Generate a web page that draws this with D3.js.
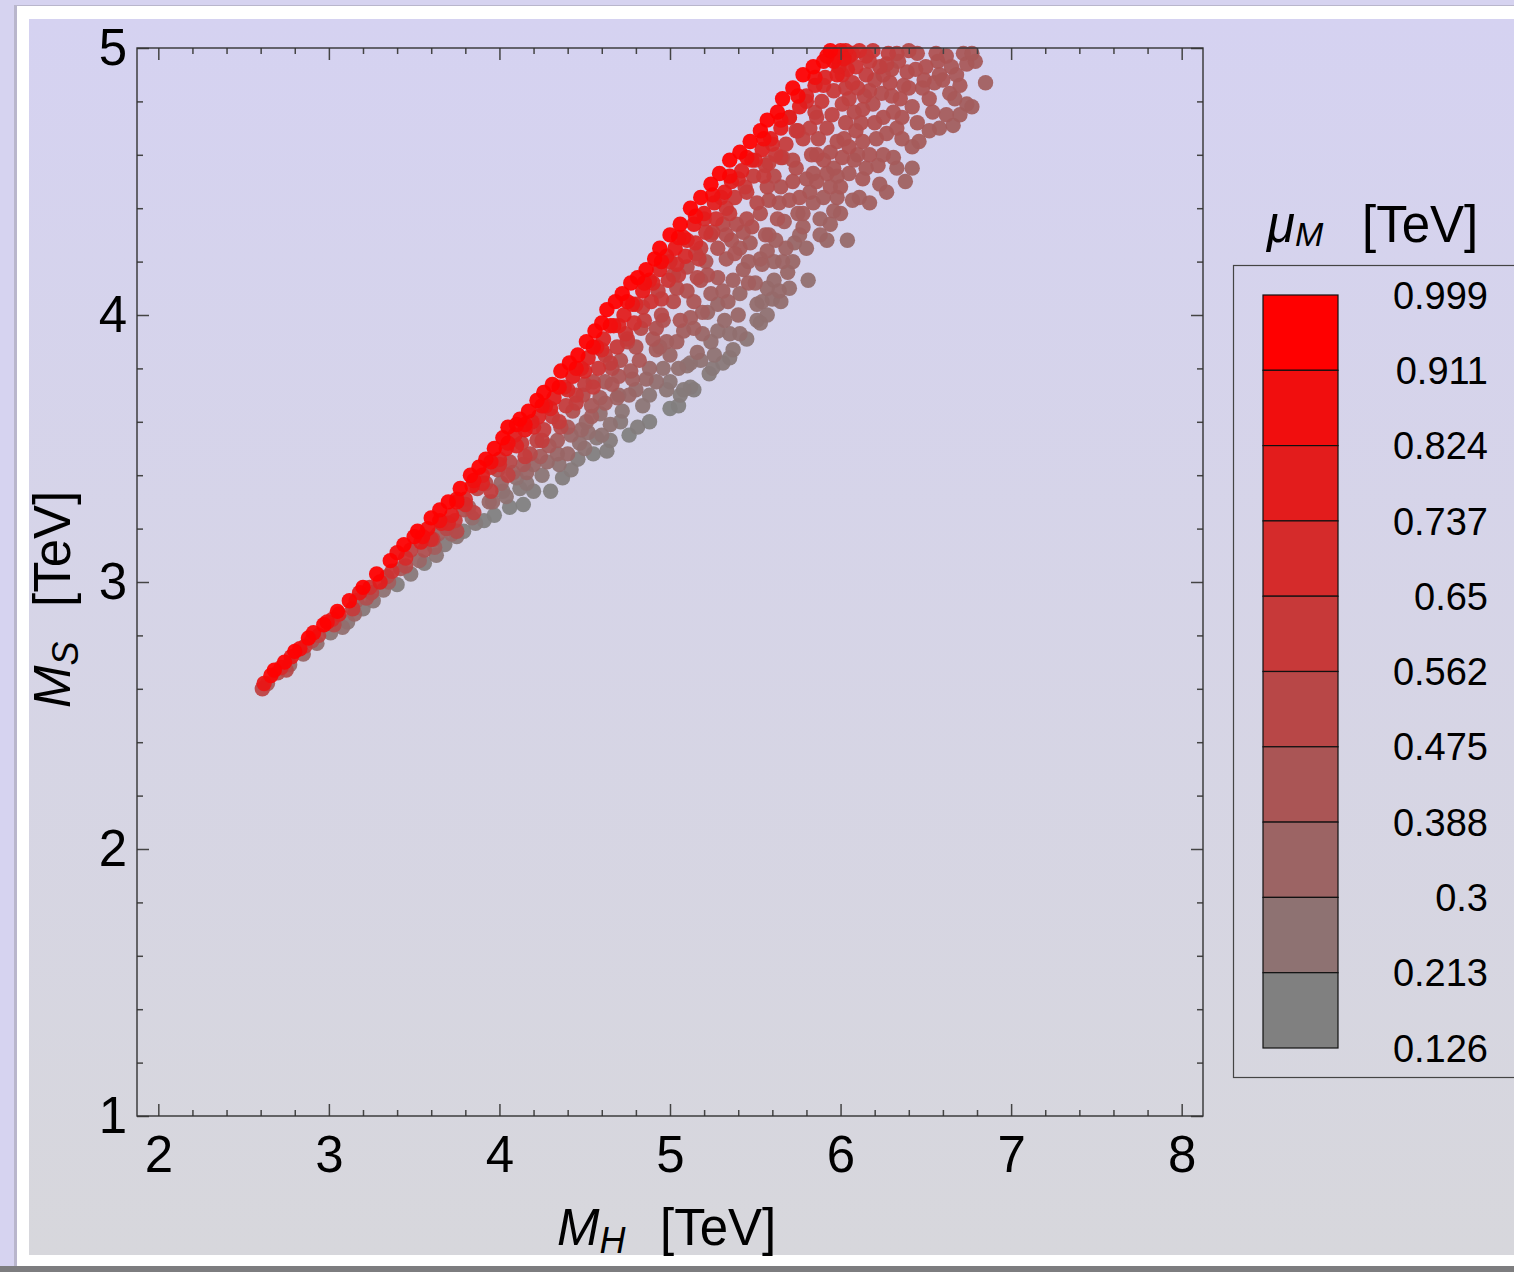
<!DOCTYPE html>
<html>
<head>
<meta charset="utf-8">
<script src="https://cdn.jsdelivr.net/npm/d3@7"></script>
<style>
  body { margin:0; background:#d6d3f0; }
  text { font-family:"Liberation Sans", Arial, Helvetica, sans-serif; fill:#000; }
</style>
</head>
<body>
<svg id="chart" width="1514" height="1272"></svg>
<script>
// tick labels
var xTicks = [2,3,4,5,6,7,8];
var yTicks = [1,2,3,4,5];
var legendLabels = ["0.999","0.911","0.824","0.737","0.65","0.562","0.475","0.388","0.3","0.213","0.126"];

// scan points : [M_H, M_S, mu_M]  (TeV)
var tipPoints = [
  [2.61,2.60,0.55],[2.62,2.62,0.85],[2.64,2.62,0.4],[2.66,2.65,0.95],[2.68,2.67,0.99],[2.70,2.66,0.45],
  [2.72,2.68,0.7],[2.74,2.70,0.97],[2.75,2.67,0.5],[2.77,2.69,0.3],[2.78,2.72,0.8],[2.80,2.74,0.99],
  [2.83,2.75,0.9],[2.85,2.73,0.3],[2.86,2.76,0.6],[2.88,2.79,1.0],[2.90,2.78,0.45],[2.91,2.81,0.95],
  [2.93,2.77,0.25],[2.94,2.80,0.55],[2.97,2.84,0.99],[2.99,2.85,0.9],[3.01,2.81,0.2],[3.02,2.86,0.7],
  [3.03,2.84,0.5],[3.05,2.89,1.0],[3.06,2.88,0.75],[3.08,2.83,0.25],[3.11,2.85,0.2],[3.12,2.93,0.98],
  [3.14,2.90,0.6],[3.15,2.88,0.3],[3.16,2.93,0.35],[3.18,2.96,0.85],[3.20,2.90,0.18],[3.20,2.98,1.0],
  [3.22,2.94,0.45],[3.24,2.98,0.65],[3.25,2.96,0.5],[3.26,2.93,0.2],[3.28,3.03,1.0],[3.30,3.00,0.8],
  [3.32,2.97,0.22],[3.34,3.02,0.5],[3.35,3.00,0.35],[3.36,3.08,0.99],[3.37,3.04,0.65],[3.40,2.99,0.15],
  [3.40,3.11,0.92],[3.42,3.05,0.4],[3.44,3.14,1.0],[3.45,3.09,0.7],[3.45,3.06,0.5],[3.48,3.03,0.18],
  [3.48,3.12,0.55],[3.50,3.17,0.97]
];
var lowBandPoints = [
  [3.52,3.19,1.0],[3.53,3.08,0.3],[3.54,3.15,0.8],[3.56,3.07,0.15],[3.56,3.12,0.45],[3.58,3.20,0.9],
  [3.60,3.24,1.0],[3.61,3.16,0.55],[3.62,3.13,0.35],[3.63,3.10,0.2],[3.64,3.18,0.35],[3.65,3.27,0.99],
  [3.66,3.22,0.75],[3.68,3.14,0.17],[3.69,3.20,0.5],[3.70,3.30,1.0],[3.72,3.25,0.8],[3.72,3.18,0.3],
  [3.74,3.23,0.6],[3.75,3.31,0.9],[3.75,3.17,0.2],[3.77,3.35,1.0],[3.79,3.19,0.15],[3.79,3.27,0.45],
  [3.80,3.31,0.7],[3.82,3.28,0.35],[3.83,3.40,0.99],[3.84,3.36,0.85],[3.84,3.24,0.25],[3.86,3.22,0.16],
  [3.87,3.35,0.55],[3.88,3.43,1.0],[3.90,3.40,0.8],[3.91,3.23,0.14],[3.92,3.37,0.45],[3.92,3.46,0.98],
  [3.94,3.30,0.3],[3.95,3.43,0.7],[3.96,3.30,0.28],[3.97,3.25,0.13],[3.97,3.50,1.0],[3.99,3.42,0.48],
  [4.00,3.46,0.75],[4.01,3.37,0.3],[4.02,3.54,1.0],[4.02,3.34,0.2],[4.04,3.50,0.85],[4.04,3.32,0.22],
  [4.05,3.58,0.99],[4.06,3.45,0.5],[4.06,3.28,0.13],[4.08,3.41,0.35],[4.09,3.55,0.8],[4.10,3.39,0.22],
  [4.10,3.59,0.97],
  [4.12,3.61,1.0],[4.12,3.35,0.17],[4.13,3.52,0.6],[4.14,3.44,0.4],[4.14,3.29,0.13],[4.15,3.57,0.85],
  [4.16,3.37,0.2],[4.16,3.41,0.3],[4.17,3.64,0.99],[4.18,3.48,0.5],[4.19,3.60,0.8],[4.20,3.34,0.15],
  [4.20,3.44,0.3],[4.22,3.68,1.0],[4.22,3.53,0.55],[4.23,3.62,0.75],[4.24,3.47,0.38],[4.25,3.40,0.2],
  [4.26,3.57,0.6],[4.26,3.71,0.99],[4.27,3.66,0.85],[4.28,3.45,0.28],[4.29,3.51,0.4],[4.30,3.34,0.14],
  [4.31,3.74,1.0],[4.31,3.62,0.62],[4.32,3.69,0.8],[4.34,3.53,0.38],[4.34,3.48,0.3],[4.35,3.44,0.22],
  [4.36,3.79,0.99],[4.36,3.58,0.5],[4.37,3.39,0.15],[4.38,3.73,0.78],[4.39,3.66,0.6],[4.40,3.48,0.3],
  [4.40,3.58,0.4],[4.41,3.82,1.0],[4.42,3.42,0.17],[4.42,3.55,0.3],[4.43,3.64,0.45],[4.43,3.77,0.82],
  [4.45,3.70,0.62],[4.46,3.85,1.0],[4.46,3.46,0.16],[4.47,3.52,0.25],[4.48,3.80,0.8],[4.48,3.57,0.3],
  [4.49,3.70,0.5],[4.50,3.74,0.58],[4.50,3.50,0.22],[4.51,3.90,0.99],[4.51,3.60,0.3],[4.52,3.84,0.78],
  [4.52,3.56,0.25],[4.54,3.66,0.4],[4.54,3.62,0.35],[4.55,3.75,0.5],[4.55,3.48,0.14],[4.56,3.94,1.0],
  [4.57,3.54,0.18],[4.57,3.88,0.82],[4.58,3.80,0.65],[4.59,3.63,0.25],[4.59,3.69,0.38],[4.60,3.97,0.99],
  [4.60,3.55,0.22]
];
var midBandPoints = [
  [4.61,3.91,0.75],[4.62,3.85,0.6],[4.62,3.67,0.35],[4.62,3.75,0.4],[4.63,3.49,0.15],[4.63,4.02,1.0],
  [4.65,3.53,0.16],[4.65,3.59,0.22],[4.66,3.74,0.42],[4.66,3.80,0.5],[4.67,3.96,0.85],[4.68,4.05,0.99],
  [4.69,3.69,0.33],[4.69,3.88,0.62],[4.70,3.77,0.42],[4.70,3.70,0.3],[4.71,3.60,0.18],[4.71,3.83,0.45],
  [4.72,4.08,1.0],[4.72,3.64,0.2],[4.73,4.00,0.8],[4.74,3.93,0.65],[4.75,3.90,0.55],[4.76,3.55,0.13],
  [4.76,3.70,0.3],[4.77,4.12,0.99],[4.77,3.79,0.4],[4.78,4.04,0.82],[4.78,3.76,0.35],[4.79,3.97,0.68],
  [4.80,3.88,0.45],[4.80,3.72,0.28],[4.81,3.58,0.15],[4.81,4.14,1.0],[4.82,3.83,0.42],[4.83,3.95,0.5],
  [4.84,4.03,0.62],[4.84,4.09,0.85],[4.84,3.66,0.2],[4.86,4.17,0.99],[4.86,3.76,0.3],[4.88,3.60,0.14],
  [4.88,3.70,0.2],[4.88,3.80,0.3],[4.88,4.13,0.8],[4.89,4.05,0.66],[4.90,3.91,0.42],[4.91,4.21,1.0],
  [4.92,3.87,0.38],[4.92,3.95,0.45],[4.92,3.75,0.25],[4.93,4.09,0.58],[4.94,4.25,0.99],[4.94,3.88,0.35],
  [4.94,4.17,0.78],[4.95,4.00,0.5],[4.96,3.98,0.45],[4.96,3.80,0.25],[4.98,3.90,0.35],[4.98,3.72,0.2],
  [4.98,4.22,0.83],[4.99,4.13,0.65],[5.00,4.30,1.0],[5.00,3.65,0.13],[5.00,3.75,0.2],[5.00,3.85,0.3],
  [5.02,4.05,0.5],[5.02,4.15,0.55],[5.03,4.25,0.85],[5.04,4.19,0.7],[5.04,3.90,0.35],[5.04,4.10,0.5],
  [5.05,3.66,0.14],[5.05,3.80,0.25],[5.06,3.70,0.16],[5.06,4.34,1.0],[5.06,3.98,0.42],[5.08,3.94,0.36],
  [5.08,3.72,0.17],[5.08,4.29,0.88],[5.09,4.22,0.72],[5.10,4.09,0.45],[5.10,3.81,0.22],[5.10,4.18,0.5],
  [5.12,4.40,1.0],[5.12,3.82,0.22],[5.12,3.99,0.38],[5.12,3.73,0.16],[5.14,3.72,0.15],[5.14,3.95,0.35],
  [5.14,4.05,0.42],[5.14,4.34,0.85],[5.15,4.27,0.7],[5.16,4.14,0.5],[5.16,3.86,0.28],[5.17,4.21,0.58],
  [5.18,4.44,0.99],[5.18,4.13,0.45],[5.18,4.25,0.55],[5.18,3.83,0.22],[5.19,4.01,0.35],[5.19,3.93,0.3],
  [5.20,4.38,0.82],[5.21,4.20,0.42],[5.21,4.31,0.65],[5.22,4.01,0.3],[5.22,4.15,0.45],[5.23,3.78,0.17],
  [5.24,4.49,1.0],[5.24,4.08,0.36],[5.24,4.30,0.55],[5.24,3.90,0.25],[5.25,3.80,0.18],[5.26,4.42,0.8],
  [5.26,3.85,0.22],[5.27,4.36,0.68],[5.28,4.14,0.4],[5.28,4.25,0.45],[5.28,4.04,0.3],[5.28,3.94,0.25],
  [5.29,4.53,0.99],[5.31,4.09,0.35],[5.31,4.34,0.5],[5.31,3.82,0.18],[5.32,4.46,0.82],[5.32,3.98,0.28],
  [5.33,4.40,0.65],[5.33,4.30,0.48],[5.33,4.21,0.4],[5.34,4.05,0.33],[5.35,4.58,1.0],[5.35,3.84,0.18],
  [5.35,3.93,0.24],[5.36,4.50,0.8],[5.36,4.28,0.42],[5.37,4.13,0.35],[5.37,3.87,0.2],[5.38,4.44,0.62],
  [5.38,4.23,0.42],[5.39,4.34,0.48],[5.40,4.00,0.3],[5.41,4.61,0.99],[5.41,4.25,0.4],[5.41,4.08,0.3],
  [5.41,3.93,0.24],[5.42,4.54,0.78],[5.43,4.17,0.36],[5.43,4.31,0.42],[5.44,4.48,0.62],[5.45,4.36,0.48],
  [5.45,3.91,0.2],[5.46,4.12,0.35],[5.46,4.20,0.36],[5.47,4.65,1.0],[5.47,4.27,0.38],[5.48,4.58,0.8],
  [5.48,4.33,0.45],[5.49,4.52,0.6],[5.50,4.12,0.33],[5.51,4.42,0.5],[5.51,4.04,0.26],[5.51,3.98,0.22],
  [5.53,4.69,0.99],[5.53,4.21,0.35],[5.53,3.97,0.22],[5.53,4.38,0.45],[5.54,4.62,0.78],[5.54,4.19,0.33],
  [5.54,4.05,0.26],[5.56,4.56,0.6],[5.56,4.30,0.4]
];
var highBandPoints = [
  [5.57,4.73,1.0],[5.57,4.48,0.5],[5.57,4.24,0.35],[5.57,4.10,0.28],[5.57,4.00,0.23],[5.58,4.43,0.45],
  [5.58,4.57,0.55],[5.58,4.30,0.38],[5.59,4.66,0.8],[5.60,4.06,0.26],[5.61,4.20,0.32],[5.61,4.13,0.28],
  [5.61,4.52,0.5],[5.62,4.60,0.62],[5.62,4.28,0.35],[5.63,4.76,0.99],[5.63,4.36,0.42],[5.64,4.09,0.28],
  [5.64,4.42,0.42],[5.65,4.70,0.8],[5.65,4.48,0.45],[5.65,4.05,0.26],[5.66,4.81,1.0],[5.66,4.59,0.52],
  [5.66,4.20,0.32],[5.67,4.35,0.38],[5.68,4.64,0.6],[5.68,4.25,0.33],[5.69,4.16,0.3],[5.70,4.43,0.42],
  [5.70,4.10,0.27],[5.70,4.74,0.78],[5.72,4.85,0.99],[5.72,4.20,0.3],[5.72,4.58,0.5],[5.72,4.50,0.45],
  [5.73,4.27,0.3],[5.74,4.55,0.47],[5.74,4.69,0.62],[5.75,4.38,0.38],[5.76,4.78,0.8],[5.76,4.44,0.42],
  [5.76,4.30,0.32],[5.78,4.90,1.0],[5.78,4.66,0.55],[5.78,4.38,0.38],[5.78,4.33,0.35],[5.80,4.51,0.42],
  [5.80,4.82,0.75],[5.80,4.25,0.3],[5.81,4.13,0.25],[5.82,4.70,0.55],[5.82,4.46,0.4],[5.83,4.60,0.48],
  [5.84,4.93,0.99],[5.84,4.53,0.42],[5.84,4.42,0.38],[5.85,4.86,0.78],[5.86,4.74,0.58],[5.86,4.60,0.48],
  [5.86,4.50,0.42],[5.87,4.66,0.5],[5.88,4.36,0.33],[5.88,4.30,0.32],[5.89,4.80,0.62],[5.90,4.95,0.95],
  [5.90,4.58,0.45],[5.90,4.44,0.38],[5.91,4.89,0.75],[5.92,4.53,0.42],[5.92,4.70,0.52],[5.92,4.28,0.3],
  [5.92,4.97,0.95],[5.94,4.99,0.97],[5.94,4.61,0.45],[5.94,4.48,0.4],[5.94,4.34,0.33],[5.95,4.75,0.55],
  [5.96,4.39,0.35],[5.96,4.84,0.62],[5.96,4.55,0.42],[5.96,4.95,0.9],[5.97,4.97,0.9]
];
// dense rows just under the upper (red) edge
var edgeRowPoints = [
  [3.55,3.17,0.92],[3.65,3.23,0.9],[3.75,3.30,0.93],[3.85,3.38,0.9],[3.95,3.45,0.92],[4.05,3.52,0.9],
  [4.15,3.59,0.93],[4.25,3.66,0.9],[4.35,3.73,0.92],[4.45,3.80,0.9],[4.55,3.88,0.93],[4.65,3.96,0.9],
  [4.75,4.05,0.92],[4.85,4.12,0.9],[4.95,4.20,0.93],[5.05,4.29,0.9],[5.15,4.37,0.92],[5.25,4.45,0.9],
  [5.35,4.52,0.93],[5.45,4.59,0.9],[5.55,4.66,0.92],[5.65,4.73,0.9],[5.75,4.82,0.93],[5.85,4.89,0.9],
  [3.60,3.16,0.7],[3.70,3.22,0.75],[3.80,3.29,0.72],[3.90,3.37,0.75],[4.00,3.44,0.7],[4.10,3.51,0.75],
  [4.20,3.58,0.72],[4.30,3.65,0.76],[4.40,3.72,0.7],[4.50,3.79,0.74],[4.60,3.87,0.72],[4.70,3.96,0.75],
  [4.80,4.04,0.7],[4.90,4.12,0.74],[5.00,4.20,0.72],[5.10,4.28,0.75],[5.20,4.36,0.7],[5.30,4.44,0.74],
  [5.40,4.51,0.72],[5.50,4.58,0.75],[5.60,4.64,0.7],[5.70,4.74,0.72],[5.80,4.80,0.7],[5.90,4.86,0.72],
  [3.75,3.19,0.5],[3.85,3.26,0.55],[3.95,3.34,0.58],[4.05,3.40,0.55],[4.15,3.47,0.6],[4.25,3.53,0.58],
  [4.35,3.60,0.6],[4.45,3.67,0.58],[4.55,3.73,0.6],[4.65,3.82,0.58],[4.75,3.91,0.6],[4.85,3.98,0.58],
  [4.95,4.06,0.6],[5.05,4.15,0.58],[5.15,4.23,0.6],[5.25,4.31,0.58],[5.35,4.38,0.6],[5.45,4.46,0.58],
  [5.55,4.52,0.6],[5.65,4.59,0.58],[5.75,4.69,0.6],[5.85,4.76,0.58]
];
var topPoints = [
  [5.98,4.65,0.46],[5.98,4.44,0.38],[5.98,4.52,0.4],[5.98,4.90,0.8],[5.99,4.93,0.78],[6.00,4.99,0.85],
  [6.00,4.38,0.35],[6.00,4.48,0.4],[6.01,4.90,0.7],[6.01,4.79,0.55],[6.01,4.59,0.44],[6.02,4.96,0.85],
  [6.02,4.66,0.46],[6.03,4.72,0.5],[6.03,4.99,0.8],[6.03,4.85,0.6],[6.04,4.28,0.28],[6.04,4.92,0.75],
  [6.05,4.53,0.4],[6.05,4.63,0.45],[6.05,4.81,0.55],[6.05,4.97,0.78],[6.07,4.87,0.62],[6.07,4.98,0.72],
  [6.07,4.43,0.35],[6.08,4.58,0.42],[6.08,4.76,0.5],[6.09,4.93,0.66],[6.09,4.69,0.48],[6.10,4.85,0.56],
  [6.10,4.60,0.42],[6.11,4.44,0.36],[6.11,4.99,0.7],[6.12,4.72,0.48],[6.13,4.51,0.4],[6.13,4.65,0.44],
  [6.13,4.77,0.5],[6.14,4.82,0.52],[6.15,4.90,0.58],[6.15,4.97,0.65],[6.15,4.55,0.4],[6.17,4.95,0.6],
  [6.17,4.84,0.52],[6.17,4.60,0.42],[6.17,4.42,0.35],[6.19,4.79,0.48],[6.19,4.99,0.62],[6.20,4.88,0.52],
  [6.20,4.72,0.46],[6.21,4.66,0.42],[6.22,4.56,0.4],[6.23,4.49,0.37],[6.23,4.93,0.56],[6.24,4.83,0.48],
  [6.25,4.90,0.52],[6.25,4.74,0.45],[6.25,4.60,0.4],[6.27,4.94,0.54],[6.27,4.68,0.42],[6.27,4.46,0.36],
  [6.28,4.98,0.56],[6.29,4.87,0.5],[6.30,4.92,0.5],[6.30,4.82,0.47],[6.31,4.76,0.44],[6.31,4.59,0.38],
  [6.33,4.98,0.52],[6.33,4.70,0.42],[6.33,4.55,0.36],[6.34,4.95,0.5],[6.35,4.81,0.46],[6.36,4.66,0.4],
  [6.36,4.74,0.43],[6.37,4.86,0.46],[6.38,4.50,0.34],[6.39,4.91,0.48],[6.40,4.99,0.5],[6.40,4.85,0.45],
  [6.42,4.78,0.42],[6.42,4.63,0.38],[6.42,4.55,0.34],[6.44,4.92,0.46],[6.45,4.98,0.47],[6.45,4.72,0.4],
  [6.46,4.65,0.38],[6.48,4.85,0.43],[6.49,4.88,0.44],[6.50,4.93,0.45],[6.52,4.69,0.38],[6.52,4.81,0.42],
  [6.54,4.76,0.4],[6.55,4.87,0.42],[6.56,4.98,0.44],[6.57,4.95,0.43],[6.58,4.70,0.37],[6.58,4.90,0.42],
  [6.60,4.88,0.42],[6.62,4.75,0.38],[6.62,4.97,0.42],[6.64,4.83,0.4],[6.65,4.93,0.41],[6.66,4.71,0.36],
  [6.67,4.81,0.38],[6.68,4.90,0.4],[6.70,4.86,0.4],[6.70,4.75,0.37],[6.72,4.98,0.4],[6.74,4.94,0.4],
  [6.74,4.79,0.37],[6.77,4.98,0.4],[6.77,4.78,0.36],[6.79,4.95,0.39],[6.85,4.87,0.35]
];

var points = tipPoints.concat(lowBandPoints, midBandPoints, highBandPoints, edgeRowPoints, topPoints)
  .map(function(d){ return {mH:d[0], mS:d[1], mu:d[2]}; })
  .sort(function(a,b){ return a.mu - b.mu; });

var svg = d3.select('#chart');

// ---- background / frame of the notebook cell ----
var defs = svg.append('defs');
var grad = defs.append('linearGradient').attr('id','panelGrad')
  .attr('x1',0).attr('y1',0).attr('x2',0).attr('y2',1);
grad.append('stop').attr('offset','0%').attr('stop-color','#d5d2f1');
grad.append('stop').attr('offset','100%').attr('stop-color','#d7d7dc');

svg.append('rect').attr('width',1514).attr('height',1272).attr('fill','#d6d3f0');
svg.append('rect').attr('x',14).attr('y',5).attr('width',1510).attr('height',1263).attr('fill','#b9b6cc');
svg.append('rect').attr('x',17).attr('y',6).attr('width',1510).attr('height',1260).attr('fill','#ffffff');
svg.append('rect').attr('x',29).attr('y',19).attr('width',1500).attr('height',1236)
  .attr('fill','url(#panelGrad)');
svg.append('rect').attr('x',0).attr('y',1266).attr('width',1514).attr('height',6).attr('fill','#7d7d7f');

// ---- scales ----
var margin = {left:137, top:48, right:1203, bottom:1116};
var x = d3.scaleLinear().domain([1.875,8.125]).range([margin.left, margin.right]);
var y = d3.scaleLinear().domain([1,5]).range([margin.bottom, margin.top]);
var color = d3.scaleLinear().domain([0.126,0.999]).range(['#808080','#ff0000']).clamp(true);

var xMinor = d3.range(2,8.01,0.2).filter(function(v){ return Math.abs(v-Math.round(v))>0.01; });
var yMinor = d3.range(1,5.01,0.2).filter(function(v){ return Math.abs(v-Math.round(v))>0.01; });

var chart = svg.append('g');

// ---- points ----
chart.append('g').selectAll('circle')
  .data(points)
  .enter()
  .append('circle')
  .attr('cx', function(d){ return x(d.mH); })
  .attr('cy', function(d){ return y(d.mS); })
  .attr('r', 7.7)
  .attr('fill', function(d){ return color(d.mu); })
  .attr('fill-opacity', 0.94);

// ---- axes (ticks point inward, on all four sides) ----
function styleAxis(g){
  g.select('.domain').remove();
  g.selectAll('.tick line').attr('stroke','#444').attr('stroke-width',1.5);
  g.selectAll('.tick text').style('font-size','51px').attr('fill','#000');
}
chart.append('g').attr('transform','translate(0,'+margin.bottom+')')
  .call(d3.axisBottom(x).tickValues(xTicks).tickSize(-12).tickPadding(20).tickFormat(d3.format('d')))
  .call(styleAxis);
chart.append('g').attr('transform','translate(0,'+margin.bottom+')')
  .call(d3.axisBottom(x).tickValues(xMinor).tickSize(-6).tickFormat(''))
  .call(styleAxis);
chart.append('g').attr('transform','translate(0,'+margin.top+')')
  .call(d3.axisTop(x).tickValues(xTicks).tickSize(-12).tickFormat(''))
  .call(styleAxis);
chart.append('g').attr('transform','translate(0,'+margin.top+')')
  .call(d3.axisTop(x).tickValues(xMinor).tickSize(-6).tickFormat(''))
  .call(styleAxis);
chart.append('g').attr('transform','translate('+margin.left+',0)')
  .call(d3.axisLeft(y).tickValues(yTicks).tickSize(-12).tickPadding(10).tickFormat(d3.format('d')))
  .call(styleAxis);
chart.append('g').attr('transform','translate('+margin.left+',0)')
  .call(d3.axisLeft(y).tickValues(yMinor).tickSize(-6).tickFormat(''))
  .call(styleAxis);
chart.append('g').attr('transform','translate('+margin.right+',0)')
  .call(d3.axisRight(y).tickValues(yTicks).tickSize(-12).tickFormat(''))
  .call(styleAxis);
chart.append('g').attr('transform','translate('+margin.right+',0)')
  .call(d3.axisRight(y).tickValues(yMinor).tickSize(-6).tickFormat(''))
  .call(styleAxis);

chart.append('rect')
  .attr('x',margin.left).attr('y',margin.top)
  .attr('width',margin.right-margin.left).attr('height',margin.bottom-margin.top)
  .attr('fill','none').attr('stroke','#333').attr('stroke-width',1.4);

// ---- axis titles ----
var xl = svg.append('text').attr('y',1245).style('font-size','51px');
xl.append('tspan').attr('x',557).style('font-style','italic').text('M');
xl.append('tspan').attr('dy',8).style('font-style','italic').style('font-size','36px').text('H');
xl.append('tspan').attr('x',660).attr('dy',-8).text('[TeV]');

var yl = svg.append('text').attr('transform','rotate(-90)').attr('y',70).style('font-size','51px');
yl.append('tspan').attr('x',-708).style('font-style','italic').text('M');
yl.append('tspan').attr('dy',8).style('font-style','italic').style('font-size','36px').text('S');
yl.append('tspan').attr('x',-607).attr('dy',-8).text('[TeV]');

// ---- legend ----
var legend = svg.append('g');
legend.append('rect')
  .attr('x',1233.5).attr('y',265.5).attr('width',300).attr('height',812)
  .attr('fill','none').attr('stroke','#444').attr('stroke-width',1.2);

var lt = legend.append('text').attr('y',242).style('font-size','51px');
lt.append('tspan').attr('x',1267).style('font-style','italic').text('\u03bc');
lt.append('tspan').attr('dy',4).style('font-style','italic').style('font-size','34px').text('M');
lt.append('tspan').attr('x',1362).attr('dy',-4).text('[TeV]');

var barTop = 295, barBottom = 1048, barX = 1263, barW = 75;
var ly = d3.scalePoint().domain(legendLabels).range([barTop, barBottom]);
var nBands = legendLabels.length - 1;
var bands = legendLabels.slice(0, nBands);

legend.selectAll('.band')
  .data(bands)
  .enter()
  .append('rect')
  .attr('class','band')
  .attr('x',barX)
  .attr('y',function(d){ return ly(d); })
  .attr('width',barW)
  .attr('height',function(d,i){ return ly(legendLabels[i+1]) - ly(d); })
  .attr('fill',function(d,i){ return d3.interpolateRgb('#ff0000','#808080')(i/(nBands-1)); })
  .attr('stroke','#111').attr('stroke-width',1.2);

legend.selectAll('.lab')
  .data(legendLabels)
  .enter()
  .append('text')
  .attr('class','lab')
  .attr('x',1488)
  .attr('y',function(d){ return ly(d); })
  .attr('dy','0.36em')
  .attr('text-anchor','end')
  .style('font-size','38px')
  .text(function(d){ return d; });
</script>
</body>
</html>
